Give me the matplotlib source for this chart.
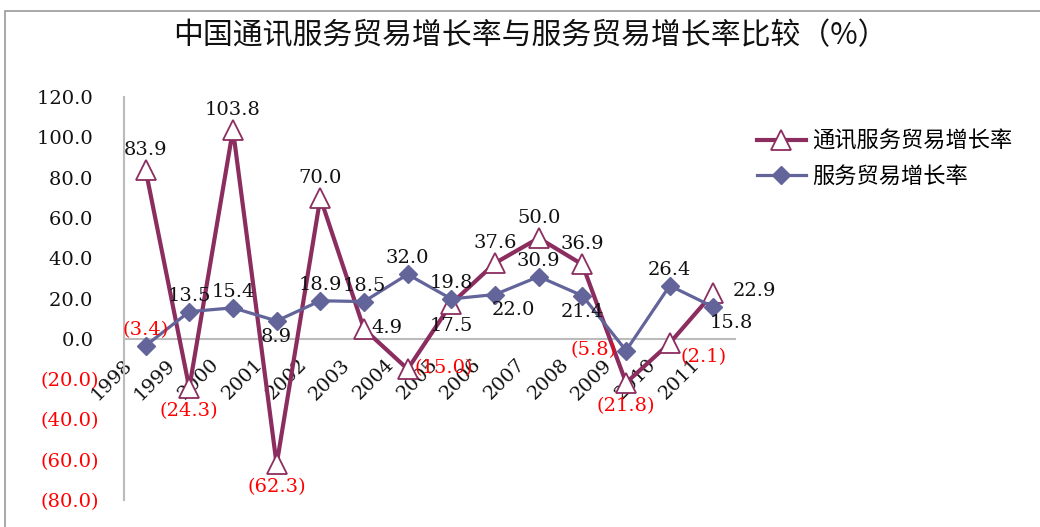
import matplotlib
matplotlib.use('Agg')
import matplotlib.pyplot as plt
from matplotlib.patches import Rectangle
from matplotlib.transforms import ScaledTranslation

# 年份与两组增长率（%）
years = ['1998', '1999', '2000', '2001', '2002', '2003', '2004',
         '2005', '2006', '2007', '2008', '2009', '2010', '2011']
tongxun = [83.9, -24.3, 103.8, -62.3, 70.0, 4.9, -15.0,
           17.5, 37.6, 50.0, 36.9, -21.8, -2.1, 22.9]
fuwu = [-3.4, 13.5, 15.4, 8.9, 18.9, 18.5, 32.0,
        19.8, 22.0, 30.9, 21.4, -5.8, 26.4, 15.8]
yticks = [120, 100, 80, 60, 40, 20, 0, -20, -40, -60, -80]

# 数据标签的位置
pos_tongxun = ['above', 'below', 'above', 'below', 'above', 'right', 'right',
               'below', 'above', 'above', 'above', 'below', 'rightdown', 'farright']
pos_fuwu = ['above', 'above', 'above', 'below', 'above', 'above', 'above',
            'above', 'belowright', 'above', 'below', 'left', 'above', 'belowright']

cjk = ['Noto Sans CJK SC', 'DejaVu Sans']
num_font = ['DejaVu Serif']
c_tx = '#8C2D60'
c_fw = '#62649A'


def fmt(v):
    if v < 0:
        return '(%.1f)' % abs(v)
    return '%.1f' % v


fig = plt.figure(figsize=(10.4, 5.27), dpi=100)
# 图表外框（右、下两边超出画布）
fig.patches.append(Rectangle((0.005, -0.1), 1.2, 1.08, transform=fig.transFigure,
                             fill=False, edgecolor='#999999', linewidth=1.2))

ax = fig.add_axes([0.119, 0.051, 0.588, 0.765])
ax.spines['bottom'].set_position(('data', 0))
x = list(range(len(years)))

l1, = ax.plot(x, tongxun, color=c_tx, linewidth=3, marker='^', markersize=14,
              markerfacecolor='white', markeredgecolor=c_tx, markeredgewidth=1.3,
              label='通讯服务贸易增长率', zorder=3)
l2, = ax.plot(x, fuwu, color=c_fw, linewidth=2.3, marker='D', markersize=9,
              markerfacecolor=c_fw, markeredgecolor=c_fw,
              label='服务贸易增长率', zorder=4)

off_tx = {'above': (0, 8, 'center', 'bottom'),
          'below': (0, -10, 'center', 'top'),
          'right': (5, 1, 'left', 'center'),
          'farright': (14, 1, 'left', 'center'),
          'rightdown': (8, -10, 'left', 'center')}
off_fw = {'above': (0, 5, 'center', 'bottom'),
          'below': (0, -5, 'center', 'top'),
          'belowright': (13, -5, 'center', 'top'),
          'left': (-7, 0, 'right', 'center')}


def add_labels(vals, poss, offsets):
    for xi, v, p in zip(x, vals, poss):
        dx, dy, ha, va = offsets[p]
        ax.annotate(fmt(v), (xi, v), xytext=(dx, dy), textcoords='offset points',
                    ha=ha, va=va, fontsize=14, family=num_font,
                    color='red' if v < 0 else '#111111', zorder=5)


add_labels(tongxun, pos_tongxun, off_tx)
add_labels(fuwu, pos_fuwu, off_fw)

ax.set_xlim(-0.5, len(years) - 0.5)
ax.set_ylim(-80, 120)
ax.set_yticks(yticks)
ax.set_yticklabels([fmt(v) if v < 0 else fmt(v) + ' ' for v in yticks],
                   family=num_font, fontsize=14)
for lab, v in zip(ax.get_yticklabels(), yticks):
    lab.set_color('red' if v < 0 else '#111111')
ax.tick_params(axis='y', length=0, pad=18)

ax.set_xticks(x)
ax.set_xticklabels(years, rotation=45, ha='right', rotation_mode='anchor',
                   family=num_font, fontsize=14, color='#111111')
ax.tick_params(axis='x', length=0, pad=12)
shift = ScaledTranslation(-0.23, 0, fig.dpi_scale_trans)
for lab in ax.get_xticklabels():
    lab.set_transform(lab.get_transform() + shift)

for s in ['top', 'right']:
    ax.spines[s].set_visible(False)
for s in ['left', 'bottom']:
    ax.spines[s].set_color('#BBBBBB')
    ax.spines[s].set_linewidth(1.5)
ax.set_facecolor('none')

fig.text(0.51, 0.933, '中国通讯服务贸易增长率与服务贸易增长率比较（%）',
         ha='center', va='center', fontsize=21.5, family=cjk,
         fontweight='light', color='#111111')

fig.legend(handles=[l1, l2], loc='upper left', bbox_to_anchor=(0.717, 0.775),
           frameon=False, prop={'family': cjk, 'size': 16, 'weight': 'light'},
           handlelength=2.2, handletextpad=0.3, labelspacing=0.55, borderpad=0)

fig.savefig('out.png', dpi=100)
